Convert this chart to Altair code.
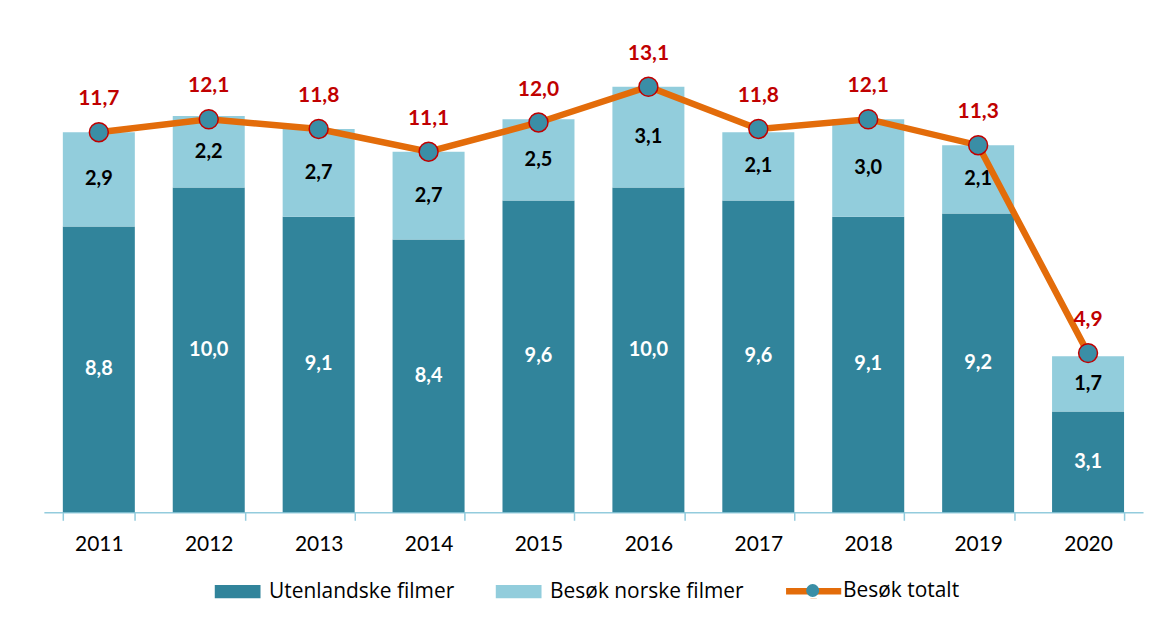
import altair as alt
import pandas as pd

years = ["2011", "2012", "2013", "2014", "2015", "2016", "2017", "2018", "2019", "2020"]
utenlandske = [8.8, 10.0, 9.1, 8.4, 9.6, 10.0, 9.6, 9.1, 9.2, 3.1]
norske = [2.9, 2.2, 2.7, 2.7, 2.5, 3.1, 2.1, 3.0, 2.1, 1.7]
totalt = [11.7, 12.1, 11.8, 11.1, 12.0, 13.1, 11.8, 12.1, 11.3, 4.9]
series = ["Utenlandske filmer", "Besøk norske filmer", "Besøk totalt"]

TEAL = "#31849B"
LIGHT = "#92CDDC"
ORANGE = "#E36C0A"
RED = "#C00000"
MARK = "#3A8EA6"
FONT = "Lato"
LFONT = "Open Sans"

rows = []
for i, y in enumerate(years):
    rows.append({"year": y, "series": series[0], "value": utenlandske[i], "ord": 0})
    rows.append({"year": y, "series": series[1], "value": norske[i], "ord": 1})
bars_df = pd.DataFrame(rows)
tot_df = pd.DataFrame({"year": years, "total": totalt, "series": [series[2]] * len(years)})

RECT = "M-1,-0.5H2.4V0.5H-1Z"
LINE = "M-1.2,0H2.9M0.85,-0.55V-0.54M0.85,0.55V0.54"

x_enc = alt.X(
    "year:N",
    sort=years,
    title=None,
    scale=alt.Scale(paddingInner=0.345, paddingOuter=0.1725),
    axis=alt.Axis(
        labelAngle=0,
        labelFont=FONT,
        labelFontSize=21,
        labelColor="#000000",
        labelPadding=13,
        domainColor="#93CCDD",
        domainWidth=1.5,
        tickColor="#93CCDD",
        tickWidth=1.5,
        tickSize=8,
        tickBand="extent",
        grid=False,
    ),
)
y_scale = alt.Scale(domain=[0, 15], nice=False)

color_scale = alt.Scale(domain=series, range=[TEAL, LIGHT, MARK])
shape_scale = alt.Scale(domain=series, range=[RECT, RECT, LINE])
stroke_scale = alt.Scale(domain=series, range=["transparent", "transparent", ORANGE])

legend = alt.Legend(
    title=None,
    orient="none",
    legendX=168,
    legendY=551,
    direction="horizontal",
    labelFont=LFONT,
    labelFontSize=21,
    labelColor="#000000",
    labelLimit=400,
    symbolSize=729,
    symbolStrokeWidth=6.5,
    symbolOpacity=1,
    labelOffset=24,
    columnPadding=28,
)

dot_legend = alt.Legend(
    title=None,
    orient="none",
    legendX=764,
    legendY=560,
    labelExpr="''",
    symbolType="circle",
    symbolFillColor=MARK,
    symbolStrokeColor=RED,
    symbolStrokeWidth=1.5,
    symbolOpacity=1,
)

bars = alt.Chart(bars_df).mark_bar().encode(
    x=x_enc,
    y=alt.Y("value:Q", stack="zero", scale=y_scale, axis=None),
    color=alt.Color("series:N", scale=color_scale, legend=legend),
    order=alt.Order("ord:Q"),
)

bar_text = (
    alt.Chart(bars_df)
    .transform_stack(stack="value", groupby=["year"], as_=["v0", "v1"], sort=[alt.SortField("ord")])
    .transform_calculate(
        mid="(datum.v0 + datum.v1) / 2",
        lab="replace(format(datum.value, '.1f'), '.', ',')",
    )
    .mark_text(font=FONT, fontSize=20, fontWeight="bold", baseline="middle")
    .encode(
        x=alt.X("year:N", sort=years),
        y=alt.Y("mid:Q", scale=y_scale),
        text="lab:N",
        color=alt.condition(alt.datum.ord == 0, alt.value("#FFFFFF"), alt.value("#000000")),
    )
)

line = alt.Chart(tot_df).mark_line(strokeWidth=6.5, color=ORANGE).encode(
    x=alt.X("year:N", sort=years),
    y=alt.Y("total:Q", scale=y_scale),
    stroke=alt.Stroke("series:N", scale=stroke_scale, legend=legend),
)

points = alt.Chart(tot_df).mark_point(
    shape="circle", filled=True, size=360, fill=MARK, stroke=RED, strokeWidth=1.5, opacity=1
).encode(
    x=alt.X("year:N", sort=years),
    y=alt.Y("total:Q", scale=y_scale),
)

legend_layer = (
    alt.Chart(tot_df)
    .transform_filter("false")
    .mark_point(filled=True, opacity=1)
    .encode(
        x=alt.X("year:N", sort=years),
        y=alt.Y("total:Q", scale=y_scale),
        color=alt.Color("series:N", scale=color_scale, legend=legend),
        shape=alt.Shape("series:N", scale=shape_scale, legend=legend),
    )
)

dot_layer = (
    alt.Chart(tot_df)
    .transform_calculate(dot="'dot'")
    .transform_filter("false")
    .mark_point(filled=True, opacity=1, fill=MARK, stroke=RED, strokeWidth=1.5, shape="circle")
    .encode(
        x=alt.X("year:N", sort=years),
        y=alt.Y("total:Q", scale=y_scale),
        size=alt.Size("dot:N", scale=alt.Scale(type="ordinal", domain=["dot"], range=[170, 170]), legend=dot_legend),
    )
)

tot_text = (
    alt.Chart(tot_df)
    .transform_calculate(lab="replace(format(datum.total, '.1f'), '.', ',')")
    .mark_text(font=FONT, fontSize=21, fontWeight="bold", color=RED, dy=-33, baseline="middle")
    .encode(
        x=alt.X("year:N", sort=years),
        y=alt.Y("total:Q", scale=y_scale),
        text="lab:N",
    )
)

chart = (
    alt.layer(bars, bar_text, line, points, legend_layer, dot_layer, tot_text)
    .properties(
        width=1103,
        height=489,
        padding={"left": 36, "top": 16, "right": 5, "bottom": 5},
        background="#FFFFFF",
    )
    .configure_view(stroke=None)
)

chart.save("out.html", embed_options={"renderer": "svg", "actions": False})
